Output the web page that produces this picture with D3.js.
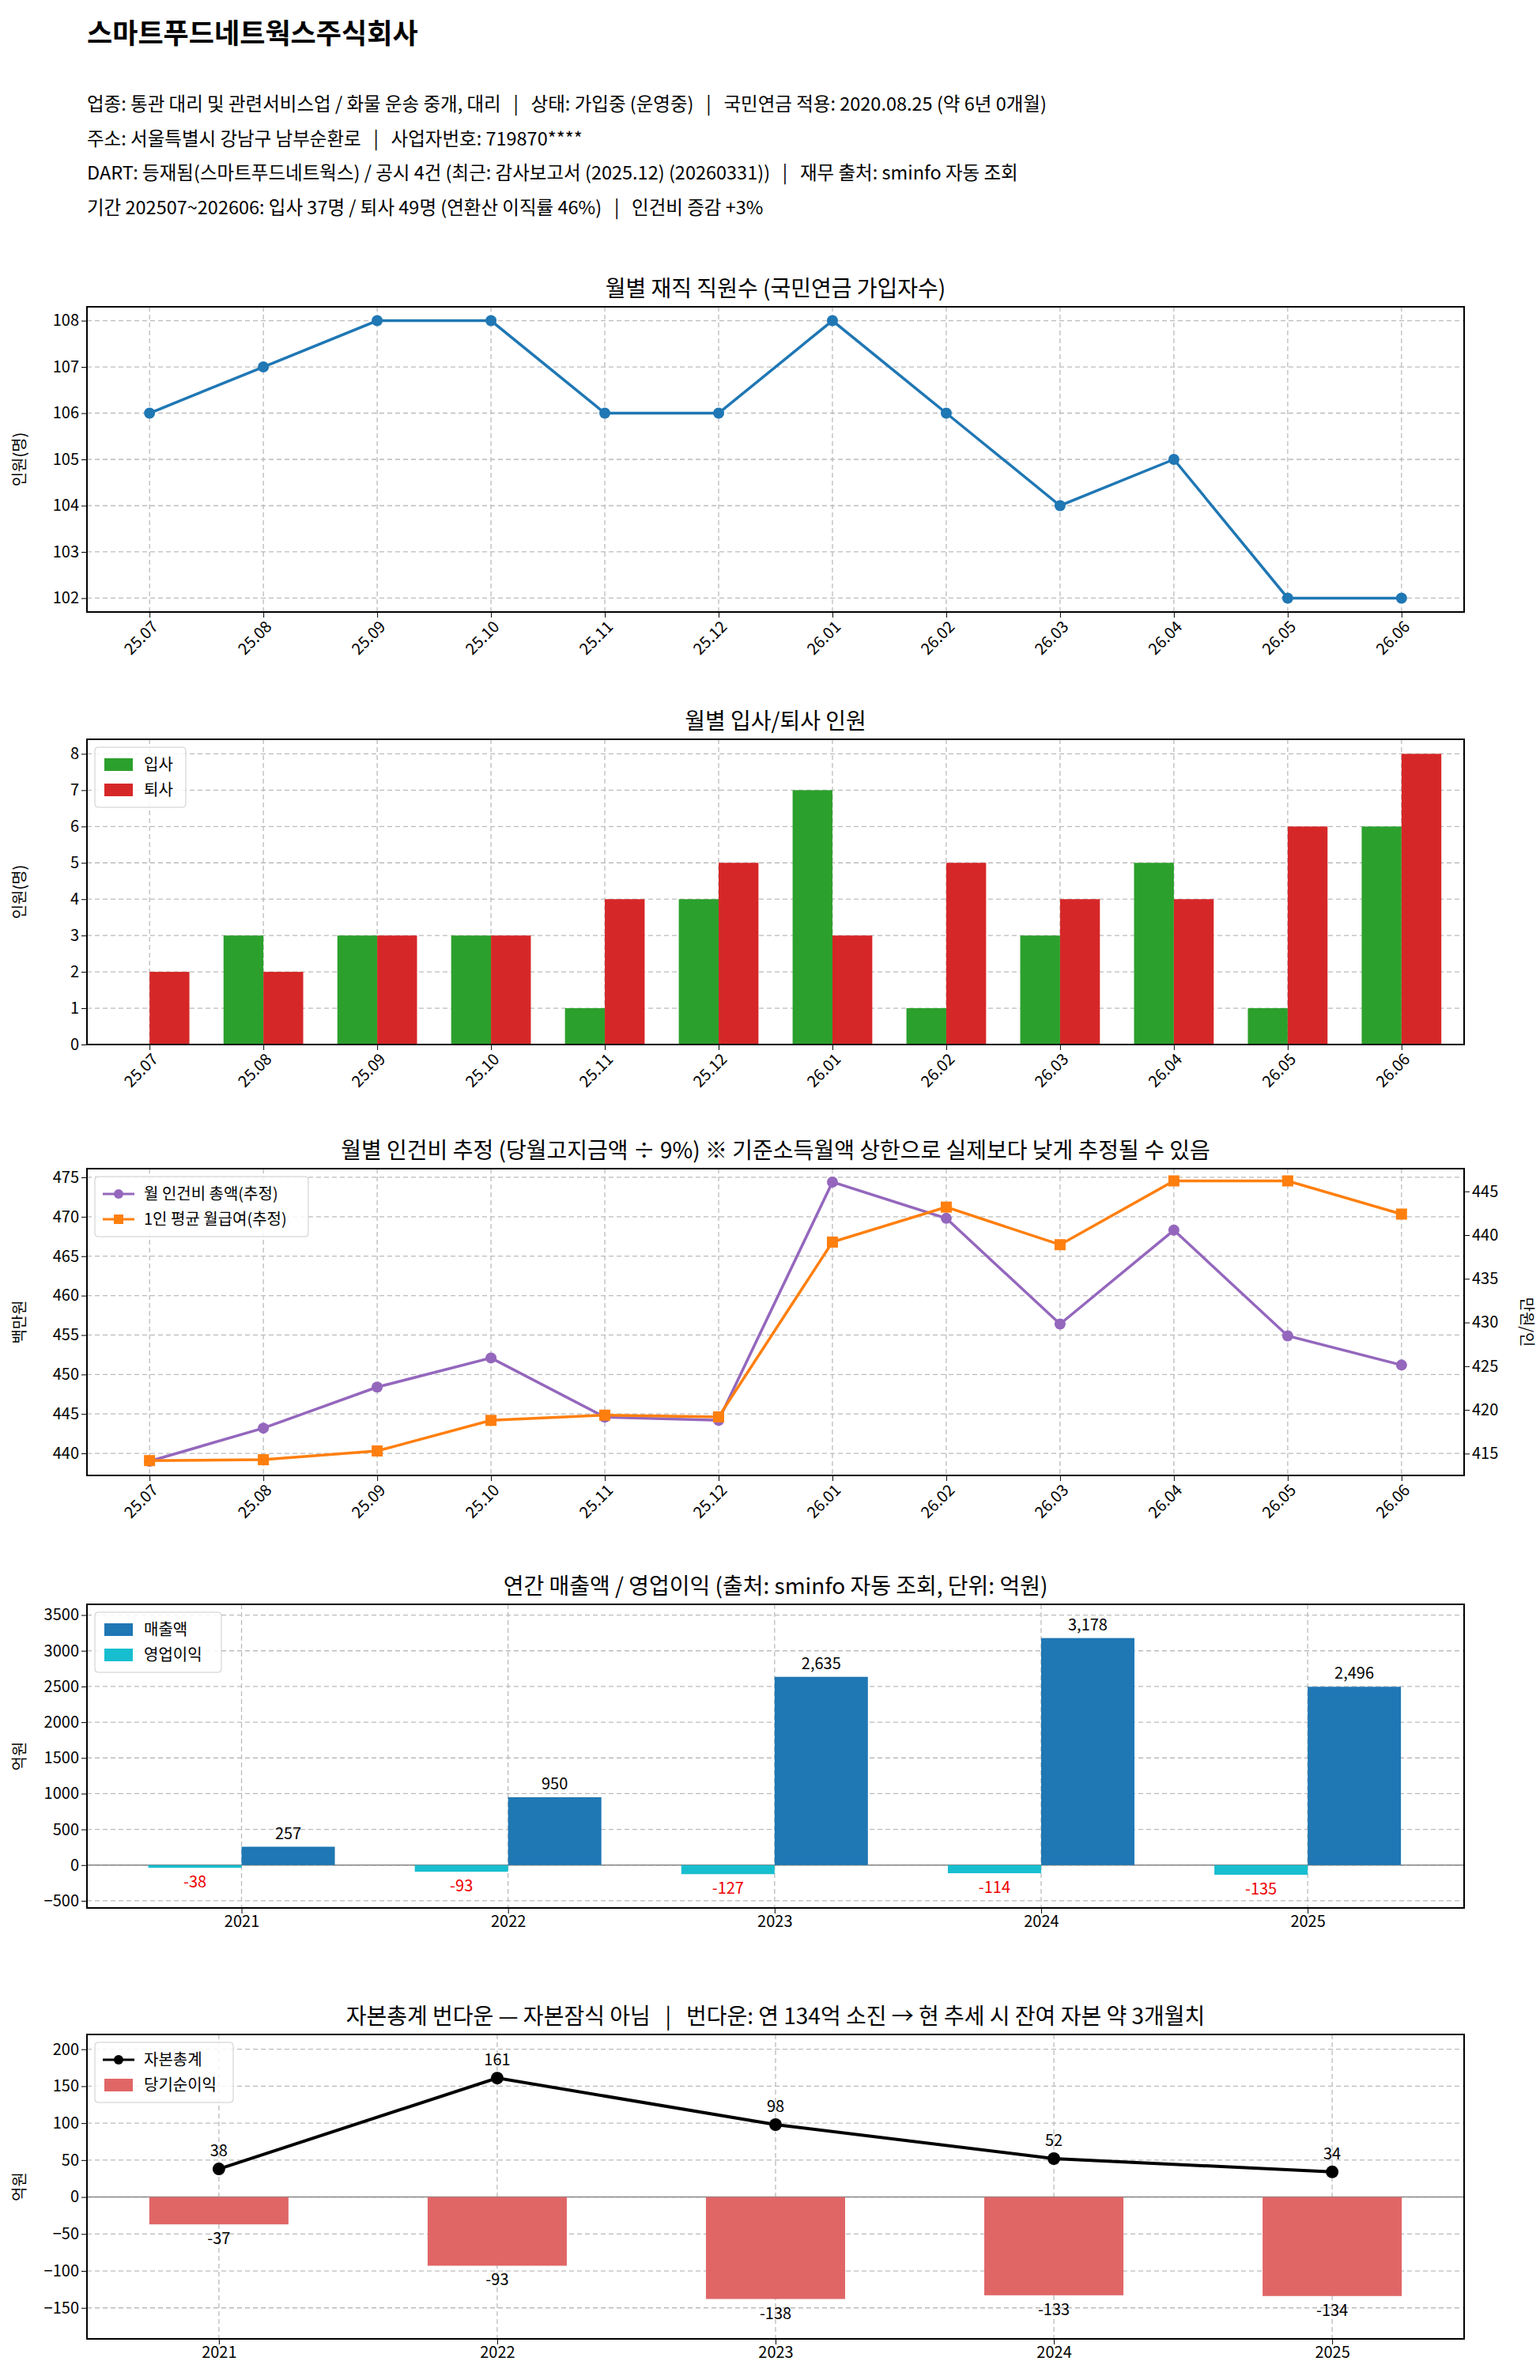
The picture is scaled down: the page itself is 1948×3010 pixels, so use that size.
<!DOCTYPE html>
<html>
<head>
<meta charset="utf-8">
<script src="https://cdnjs.cloudflare.com/ajax/libs/d3/7.8.5/d3.min.js"></script>
<style>
  body { margin: 0; background: #fff; }
  text { font-family: "Noto Sans CJK KR", "DejaVu Sans", sans-serif; white-space: pre; }
</style>
</head>
<body>
<script>
// data
var months = ["25.07","25.08","25.09","25.10","25.11","25.12","26.01","26.02","26.03","26.04","26.05","26.06"];
var headcount = [106,107,108,108,106,106,108,106,104,105,102,102];
var hires = [0,3,3,3,1,4,7,1,3,5,1,6];
var leaves = [2,2,3,3,4,5,3,5,4,4,6,8];
var payTotal = [439.0,443.2,448.4,452.1,444.6,444.2,474.4,469.8,456.4,468.3,454.9,451.2];
var payAvg = [414.2,414.3,415.3,418.8,419.4,419.2,439.2,443.2,438.9,446.2,446.2,442.4];
var years = [2021,2022,2023,2024,2025];
var revenue = [257,950,2635,3178,2496];
var opProfit = [-38,-93,-127,-114,-135];
var equity = [38,161,98,52,34];
var netIncome = [-37,-93,-138,-133,-134];

var infoLines = [
  "업종: 통관 대리 및 관련서비스업 / 화물 운송 중개, 대리   |   상태: 가입중 (운영중)   |   국민연금 적용: 2020.08.25 (약 6년 0개월)",
  "주소: 서울특별시 강남구 남부순환로   |   사업자번호: 719870****",
  "DART: 등재됨(스마트푸드네트웍스) / 공시 4건 (최근: 감사보고서 (2025.12) (20260331))   |   재무 출처: sminfo 자동 조회",
  "기간 202507~202606: 입사 37명 / 퇴사 49명 (연환산 이직률 46%)   |   인건비 증감 +3%"
];

var W = 1948, H = 3010;
var svg = d3.select("body").append("svg").attr("width", W).attr("height", H);

svg.append("text").attr("x", 110).attr("y", 55).attr("font-size", 35).attr("font-weight", "bold").text("스마트푸드네트웍스주식회사");
infoLines.forEach(function(t, i) {
  svg.append("text").attr("x", 110).attr("y", 140 + i * 43.5).attr("font-size", 23.5).text(t);
});

var L = 110, R = 1852;
var FS = 20;
var C = {blue:"#1f77b4", green:"#2ca02c", red:"#d62728", purple:"#9467bd", orange:"#ff7f0e", cyan:"#17becf"};

function frame(top, bottom, title) {
  var g = svg.append("g");
  g.append("text").attr("x", (L + R) / 2).attr("y", top - 13).attr("text-anchor", "middle").attr("font-size", 28).text(title);
  return g;
}
function gridY(g, y, ticks) {
  ticks.forEach(function(t) {
    g.append("line").attr("x1", L).attr("x2", R).attr("y1", y(t)).attr("y2", y(t))
      .attr("stroke", "#bbb").attr("stroke-dasharray", "6,4").attr("stroke-width", 1.3);
  });
}
function gridX(g, xs, top, bottom) {
  xs.forEach(function(x) {
    g.append("line").attr("x1", x).attr("x2", x).attr("y1", top).attr("y2", bottom)
      .attr("stroke", "#bbb").attr("stroke-dasharray", "6,4").attr("stroke-width", 1.3);
  });
}
function box(g, top, bottom) {
  g.append("rect").attr("x", L).attr("y", top).attr("width", R - L).attr("height", bottom - top)
    .attr("fill", "none").attr("stroke", "#000").attr("stroke-width", 2);
}
function leftAxis(g, y, ticks, label, top, bottom, fmt) {
  var ax = g.append("g").attr("transform", "translate(" + L + ",0)")
    .call(d3.axisLeft(y).tickValues(ticks).tickSize(7).tickFormat(fmt || d3.format("d")));
  ax.select(".domain").remove();
  ax.selectAll("text").attr("font-size", FS).attr("font-family", "DejaVu Sans");
  g.append("text").attr("transform", "translate(" + 32 + "," + (top + bottom) / 2 + ") rotate(-90)")
    .attr("text-anchor", "middle").attr("font-size", FS).text(label);
}
function monthAxis(g, x, bottom) {
  var ax = g.append("g").attr("transform", "translate(0," + bottom + ")")
    .call(d3.axisBottom(x).tickSize(7));
  ax.select(".domain").remove();
  ax.selectAll("text").attr("font-size", FS).attr("font-family", "DejaVu Sans")
    .attr("text-anchor", "end").attr("dx", "-0.3em").attr("dy", "0.6em").attr("transform", "rotate(-45)");
}
function legend(g, x0, y0, w, items) {
  g.append("rect").attr("x", x0).attr("y", y0).attr("width", w).attr("height", items.length * 32 + 12)
    .attr("fill", "#fff").attr("fill-opacity", 0.85).attr("stroke", "#ccc").attr("rx", 4);
  items.forEach(function(it, i) {
    var cy = y0 + 22 + i * 32;
    if (it.type === "bar") {
      g.append("rect").attr("x", x0 + 12).attr("y", cy - 8).attr("width", 36).attr("height", 16).attr("fill", it.color);
    } else {
      g.append("line").attr("x1", x0 + 10).attr("x2", x0 + 50).attr("y1", cy).attr("y2", cy).attr("stroke", it.color).attr("stroke-width", 3);
      if (it.type === "circle" || it.type === "line") g.append("circle").attr("cx", x0 + 30).attr("cy", cy).attr("r", 6).attr("fill", it.color);
      else g.append("rect").attr("x", x0 + 24).attr("y", cy - 6).attr("width", 12).attr("height", 12).attr("fill", it.color);
    }
    g.append("text").attr("x", x0 + 62).attr("y", cy + 7).attr("font-size", FS).text(it.label);
  });
}

// chart 1
(function() {
  var top = 388, bottom = 774;
  var g = frame(top, bottom, "월별 재직 직원수 (국민연금 가입자수)");
  var x = d3.scalePoint().domain(months).range([L, R]).padding(0.55);
  var y = d3.scaleLinear().domain([101.7, 108.3]).range([bottom, top]);
  var ticks = d3.range(102, 109);
  gridY(g, y, ticks); gridX(g, months.map(x), top, bottom);
  g.append("path").datum(headcount).attr("fill", "none").attr("stroke", C.blue).attr("stroke-width", 3.5)
    .attr("d", d3.line().x(function(d, i) { return x(months[i]); }).y(y));
  g.selectAll(".p").data(headcount).enter().append("circle").attr("cx", function(d, i) { return x(months[i]); })
    .attr("cy", y).attr("r", 7).attr("fill", C.blue);
  box(g, top, bottom); leftAxis(g, y, ticks, "인원(명)", top, bottom); monthAxis(g, x, bottom);
})();

// chart 2
(function() {
  var top = 935, bottom = 1321;
  var g = frame(top, bottom, "월별 입사/퇴사 인원");
  var x = d3.scalePoint().domain(months).range([L, R]).padding(0.55);
  var step = x.step(), bw = step * 0.35;
  var y = d3.scaleLinear().domain([0, 8.4]).range([bottom, top]);
  var ticks = d3.range(0, 9);
  gridY(g, y, ticks); gridX(g, months.map(x), top, bottom);
  g.selectAll(".h").data(hires).enter().append("rect").attr("x", function(d, i) { return x(months[i]) - bw; })
    .attr("y", y).attr("width", bw).attr("height", function(d) { return bottom - y(d); }).attr("fill", C.green);
  g.selectAll(".l").data(leaves).enter().append("rect").attr("x", function(d, i) { return x(months[i]); })
    .attr("y", y).attr("width", bw).attr("height", function(d) { return bottom - y(d); }).attr("fill", C.red);
  box(g, top, bottom); leftAxis(g, y, ticks, "인원(명)", top, bottom); monthAxis(g, x, bottom);
  legend(g, L + 10, top + 10, 115, [{type:"bar", color:C.green, label:"입사"}, {type:"bar", color:C.red, label:"퇴사"}]);
})();

// chart 3
(function() {
  var top = 1478, bottom = 1866;
  var g = frame(top, bottom, "월별 인건비 추정 (당월고지금액 ÷ 9%) ※ 기준소득월액 상한으로 실제보다 낮게 추정될 수 있음");
  var x = d3.scalePoint().domain(months).range([L, R]).padding(0.55);
  var y = d3.scaleLinear().domain([437.2, 476.1]).range([bottom, top]);
  var y2 = d3.scaleLinear().domain([412.5, 447.6]).range([bottom, top]);
  var ticks = d3.range(440, 476, 5);
  gridY(g, y, ticks); gridX(g, months.map(x), top, bottom);
  g.append("path").datum(payTotal).attr("fill", "none").attr("stroke", C.purple).attr("stroke-width", 3.5)
    .attr("d", d3.line().x(function(d, i) { return x(months[i]); }).y(y));
  g.selectAll(".a").data(payTotal).enter().append("circle").attr("cx", function(d, i) { return x(months[i]); })
    .attr("cy", y).attr("r", 7).attr("fill", C.purple);
  g.append("path").datum(payAvg).attr("fill", "none").attr("stroke", C.orange).attr("stroke-width", 3.5)
    .attr("d", d3.line().x(function(d, i) { return x(months[i]); }).y(y2));
  g.selectAll(".b").data(payAvg).enter().append("rect").attr("x", function(d, i) { return x(months[i]) - 7; })
    .attr("y", function(d) { return y2(d) - 7; }).attr("width", 14).attr("height", 14).attr("fill", C.orange);
  box(g, top, bottom); leftAxis(g, y, ticks, "백만원", top, bottom); monthAxis(g, x, bottom);
  var ax2 = g.append("g").attr("transform", "translate(" + R + ",0)")
    .call(d3.axisRight(y2).tickValues(d3.range(415, 446, 5)).tickSize(7));
  ax2.select(".domain").remove();
  ax2.selectAll("text").attr("font-size", FS).attr("font-family", "DejaVu Sans");
  g.append("text").attr("transform", "translate(" + (W - 24) + "," + (top + bottom) / 2 + ") rotate(90)")
    .attr("text-anchor", "middle").attr("font-size", FS).text("만원/인");
  legend(g, L + 10, top + 10, 270, [{type:"circle", color:C.purple, label:"월 인건비 총액(추정)"}, {type:"square", color:C.orange, label:"1인 평균 월급여(추정)"}]);
})();

// chart 4
(function() {
  var top = 2029, bottom = 2413;
  var g = frame(top, bottom, "연간 매출액 / 영업이익 (출처: sminfo 자동 조회, 단위: 억원)");
  var x = d3.scaleLinear().domain([2021 - 0.58, 2025 + 0.587]).range([L, R]);
  var bw = x(2021.35) - x(2021);
  var y = d3.scaleLinear().domain([-600, 3650]).range([bottom, top]);
  var ticks = d3.range(-500, 3501, 500);
  gridY(g, y, ticks); gridX(g, years.map(x), top, bottom);
  g.append("line").attr("x1", L).attr("x2", R).attr("y1", y(0)).attr("y2", y(0)).attr("stroke", "#888").attr("stroke-width", 1.5);
  g.selectAll(".o").data(opProfit).enter().append("rect").attr("x", function(d, i) { return x(years[i]) - bw; })
    .attr("y", y(0)).attr("width", bw).attr("height", function(d) { return y(d) - y(0); }).attr("fill", C.cyan);
  g.selectAll(".r").data(revenue).enter().append("rect").attr("x", function(d, i) { return x(years[i]); })
    .attr("y", y).attr("width", bw).attr("height", function(d) { return y(0) - y(d); }).attr("fill", C.blue);
  g.selectAll(".rl").data(revenue).enter().append("text").attr("x", function(d, i) { return x(years[i]) + bw / 2; })
    .attr("y", function(d) { return y(d) - 10; }).attr("text-anchor", "middle").attr("font-size", FS)
    .attr("font-family", "DejaVu Sans").text(d3.format(","));
  g.selectAll(".ol").data(opProfit).enter().append("text").attr("x", function(d, i) { return x(years[i]) - bw / 2; })
    .attr("y", function(d) { return y(d) + 25; }).attr("text-anchor", "middle").attr("font-size", FS)
    .attr("font-family", "DejaVu Sans").attr("fill", "#e00").text(function(d) { return d; });
  box(g, top, bottom); leftAxis(g, y, ticks, "억원", top, bottom);
  var ax = g.append("g").attr("transform", "translate(0," + bottom + ")")
    .call(d3.axisBottom(x).tickValues(years).tickSize(7).tickFormat(d3.format("d")));
  ax.select(".domain").remove(); ax.selectAll("text").attr("font-size", FS).attr("font-family", "DejaVu Sans");
  legend(g, L + 10, top + 10, 160, [{type:"bar", color:C.blue, label:"매출액"}, {type:"bar", color:C.cyan, label:"영업이익"}]);
})();

// chart 5
(function() {
  var top = 2573, bottom = 2958;
  var g = frame(top, bottom, "자본총계 번다운 — 자본잠식 아님   |   번다운: 연 134억 소진 → 현 추세 시 잔여 자본 약 3개월치");
  var x = d3.scaleLinear().domain([2021 - 0.474, 2025 + 0.474]).range([L, R]);
  var bw = x(2021.5) - x(2021);
  var y = d3.scaleLinear().domain([-192, 220]).range([bottom, top]);
  var ticks = d3.range(-150, 201, 50);
  gridY(g, y, ticks); gridX(g, years.map(x), top, bottom);
  g.append("line").attr("x1", L).attr("x2", R).attr("y1", y(0)).attr("y2", y(0)).attr("stroke", "#888").attr("stroke-width", 1.5);
  g.selectAll(".n").data(netIncome).enter().append("rect").attr("x", function(d, i) { return x(years[i]) - bw / 2; })
    .attr("y", y(0)).attr("width", bw).attr("height", function(d) { return y(d) - y(0); }).attr("fill", "#e06666");
  g.selectAll(".nl").data(netIncome).enter().append("text").attr("x", function(d, i) { return x(years[i]); })
    .attr("y", function(d) { return y(d) + 25; }).attr("text-anchor", "middle").attr("font-size", FS)
    .attr("font-family", "DejaVu Sans").text(function(d) { return d; });
  g.append("path").datum(equity).attr("fill", "none").attr("stroke", "#000").attr("stroke-width", 4)
    .attr("d", d3.line().x(function(d, i) { return x(years[i]); }).y(y));
  g.selectAll(".e").data(equity).enter().append("circle").attr("cx", function(d, i) { return x(years[i]); })
    .attr("cy", y).attr("r", 8).attr("fill", "#000");
  g.selectAll(".el").data(equity).enter().append("text").attr("x", function(d, i) { return x(years[i]); })
    .attr("y", function(d) { return y(d) - 16; }).attr("text-anchor", "middle").attr("font-size", FS)
    .attr("font-family", "DejaVu Sans").text(function(d) { return d; });
  box(g, top, bottom); leftAxis(g, y, ticks, "억원", top, bottom);
  var ax = g.append("g").attr("transform", "translate(0," + bottom + ")")
    .call(d3.axisBottom(x).tickValues(years).tickSize(7).tickFormat(d3.format("d")));
  ax.select(".domain").remove(); ax.selectAll("text").attr("font-size", FS).attr("font-family", "DejaVu Sans");
  legend(g, L + 10, top + 10, 175, [{type:"line", color:"#000", label:"자본총계"}, {type:"bar", color:"#e06666", label:"당기순이익"}]);
})();
</script>
</body>
</html>
